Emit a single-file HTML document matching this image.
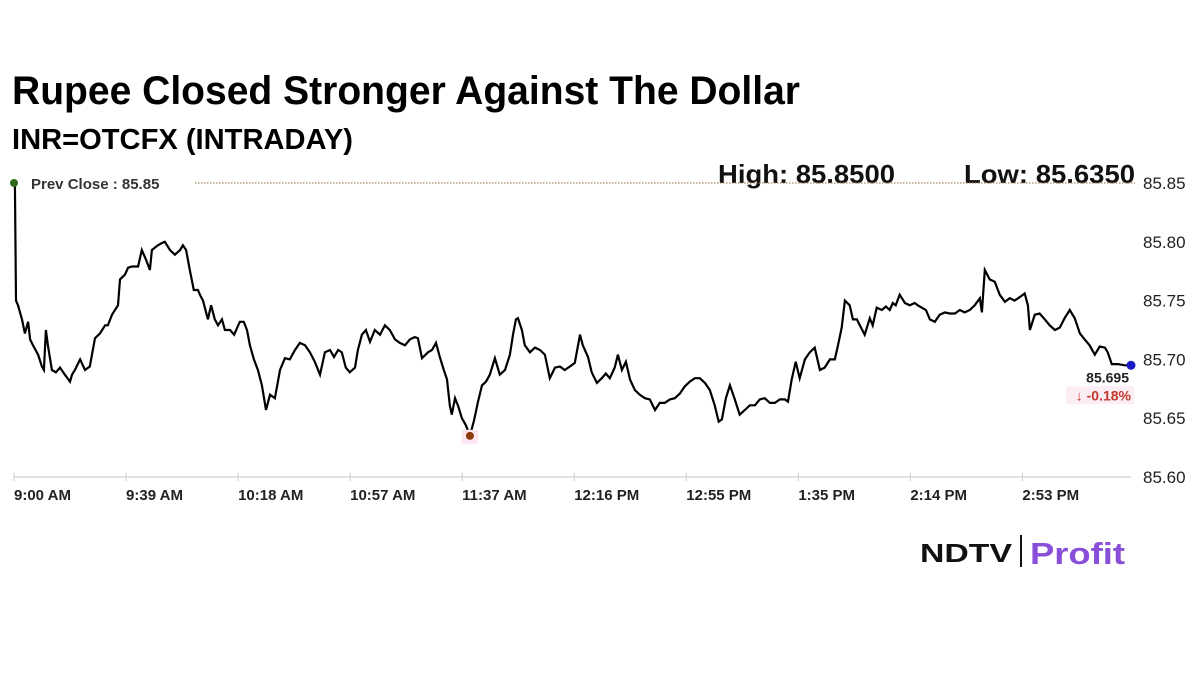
<!DOCTYPE html>
<html><head><meta charset="utf-8"><style>
html,body{margin:0;padding:0;background:#fff;}
svg{display:block;font-family:"Liberation Sans",sans-serif;}
</style></head><body>
<svg id="chart" width="1200" height="675" viewBox="0 0 1200 675">
<text x="12" y="104" font-size="40" font-weight="bold" fill="#000" textLength="788" lengthAdjust="spacingAndGlyphs">Rupee Closed Stronger Against The Dollar</text>
<text x="12" y="149" font-size="29" font-weight="bold" fill="#000" textLength="341" lengthAdjust="spacingAndGlyphs">INR=OTCFX (INTRADAY)</text>
<text x="718" y="183" font-size="26" font-weight="bold" fill="#111" textLength="177" lengthAdjust="spacingAndGlyphs">High: 85.8500</text>
<text x="964" y="183" font-size="26" font-weight="bold" fill="#111" textLength="171" lengthAdjust="spacingAndGlyphs">Low: 85.6350</text>
<g id="plot"></g>
<g>
<text x="920" y="562" font-size="26" font-weight="bold" fill="#111" textLength="92" lengthAdjust="spacingAndGlyphs">NDTV</text>
<rect x="1020" y="535" width="2" height="32" fill="#111"></rect>
<text x="1030" y="564" font-size="31" font-weight="bold" fill="#8a4fd8" textLength="95" lengthAdjust="spacingAndGlyphs">Profit</text>
</g>
</svg>
<script>
const minutes=[0.3,0.7,1.4,2.8,3.8,4.9,5.6,6.6,8.4,9.7,10.4,11.1,11.8,13.2,14.6,16.0,17.7,19.5,20.2,21.2,23.0,24.7,26.4,28.2,29.9,31.7,32.7,34.1,36.2,36.9,38.6,39.7,41.1,43.2,44.5,45.9,47.3,48.0,50.1,51.5,52.5,54.3,56.0,57.8,58.8,59.9,61.2,62.6,64.0,64.7,65.8,67.5,68.6,69.9,71.0,72.4,73.4,75.2,76.6,78.6,80.0,81.1,82.1,83.5,84.9,86.3,87.7,89.1,90.8,92.6,94.3,96.0,97.8,99.5,101.3,103.0,104.7,106.5,108.2,110.0,111.4,112.8,114.1,115.5,116.9,118.7,119.7,121.1,122.5,123.9,125.6,127.4,129.1,130.8,132.6,134.3,136.1,137.8,139.5,140.6,142.0,144.1,145.5,146.9,148.2,149.6,150.7,151.7,152.4,153.5,154.5,155.9,157.3,158.7,160.1,161.5,162.9,164.3,165.6,167.4,169.1,170.9,172.6,173.7,174.7,175.4,176.8,177.8,179.6,181.3,183.1,184.8,186.5,188.3,190.0,191.7,193.5,195.2,197.0,198.0,199.8,201.1,202.9,204.6,206.0,207.4,209.1,210.2,211.6,213.0,214.4,216.1,217.8,219.6,221.3,223.1,224.8,226.5,228.3,230.0,231.8,233.5,235.2,237.0,238.7,240.5,242.2,243.9,245.3,246.4,247.8,249.2,250.9,252.6,254.4,256.1,257.9,259.6,261.3,263.1,264.8,266.6,268.3,269.4,270.7,272.1,273.5,275.3,277.0,278.7,280.5,282.2,284.0,285.7,286.8,288.1,289.2,290.9,292.0,293.4,294.4,296.1,297.9,298.9,300.3,302.1,303.5,304.8,305.9,306.9,308.3,310.1,311.8,313.5,314.6,316.0,317.4,318.8,320.5,322.2,324.0,325.7,327.5,329.2,330.9,332.7,334.4,336.2,336.9,337.9,339.6,341.4,343.1,344.9,346.6,348.3,350.1,351.8,352.9,353.6,355.3,357.0,358.8,360.5,362.3,364.0,365.7,367.5,369.2,371.0,372.7,374.4,376.2,377.9,379.7,380.7,382.1,384.2,386.6,388.8];
const values=[85.850,85.750,85.746,85.734,85.722,85.732,85.717,85.712,85.704,85.694,85.691,85.725,85.712,85.691,85.689,85.693,85.687,85.681,85.687,85.691,85.700,85.691,85.694,85.718,85.722,85.729,85.729,85.738,85.746,85.768,85.772,85.778,85.779,85.779,85.793,85.785,85.776,85.793,85.797,85.799,85.800,85.793,85.789,85.793,85.797,85.793,85.776,85.759,85.759,85.755,85.750,85.734,85.746,85.734,85.729,85.734,85.725,85.725,85.721,85.732,85.732,85.725,85.712,85.700,85.691,85.678,85.657,85.670,85.667,85.691,85.701,85.700,85.708,85.714,85.712,85.706,85.698,85.687,85.706,85.708,85.702,85.708,85.706,85.693,85.689,85.693,85.708,85.721,85.725,85.715,85.725,85.721,85.729,85.725,85.717,85.714,85.712,85.717,85.719,85.718,85.701,85.706,85.708,85.714,85.702,85.691,85.683,85.661,85.653,85.667,85.661,85.650,85.644,85.635,85.648,85.664,85.678,85.681,85.687,85.701,85.687,85.691,85.704,85.721,85.734,85.735,85.725,85.712,85.706,85.710,85.708,85.704,85.684,85.693,85.694,85.691,85.694,85.697,85.721,85.712,85.702,85.689,85.680,85.684,85.688,85.684,85.693,85.704,85.691,85.698,85.683,85.674,85.670,85.667,85.666,85.657,85.663,85.663,85.666,85.667,85.671,85.677,85.681,85.684,85.684,85.680,85.674,85.661,85.647,85.649,85.667,85.678,85.666,85.653,85.657,85.661,85.661,85.666,85.667,85.663,85.663,85.666,85.666,85.664,85.683,85.698,85.684,85.700,85.706,85.710,85.691,85.693,85.700,85.700,85.712,85.727,85.750,85.746,85.734,85.734,85.729,85.721,85.735,85.729,85.744,85.742,85.745,85.742,85.748,85.746,85.755,85.748,85.746,85.748,85.746,85.744,85.742,85.734,85.732,85.738,85.740,85.739,85.739,85.742,85.740,85.742,85.746,85.752,85.740,85.776,85.768,85.766,85.755,85.749,85.752,85.750,85.753,85.756,85.746,85.725,85.738,85.739,85.734,85.729,85.725,85.727,85.735,85.742,85.735,85.722,85.717,85.712,85.704,85.711,85.710,85.706,85.696,85.696,85.695,85.695];
const yTicks=[85.85,85.80,85.75,85.70,85.65,85.60];
const xTickMinutes=[0,39,78,117,156,195,234,273,312,351];
const xTickLabels=["9:00 AM","9:39 AM","10:18 AM","10:57 AM","11:37 AM","12:16 PM","12:55 PM","1:35 PM","2:14 PM","2:53 PM"];
const prevClose=85.85;
const lastValue=85.695, changePct="-0.18%", lowValue=85.635, lowMinute=158.7;

const NS="http://www.w3.org/2000/svg";
const g=document.getElementById('plot');
const X0=14,X1=1131,MMAX=388.8,Y0=183,Y1=477,VMAX=85.85,VMIN=85.60;
function xs(m){return X0+(m/MMAX)*(X1-X0);}
function ys(v){return Y0+(VMAX-v)/(VMAX-VMIN)*(Y1-Y0);}
function mk(t,a){const e=document.createElementNS(NS,t);for(const k in a)e.setAttribute(k,a[k]);g.appendChild(e);return e;}

let ax=mk('line',{x1:X0,y1:Y1,x2:X1,y2:Y1,stroke:'#d8d8d8','stroke-width':1.5});


yTicks.forEach(v=>{
  const t=mk('text',{x:1143,y:ys(v)+6,'font-size':17,fill:'#222'});
  t.textContent=v.toFixed(2);
  
  
});
xTickMinutes.forEach((m,i)=>{
  const tk=mk('line',{x1:xs(m),y1:Y1-4,x2:xs(m),y2:Y1+4,stroke:'#ccc','stroke-width':1});
  
  
  const t=mk('text',{x:xs(m),y:500,'font-size':15,'font-weight':'bold',fill:'#222'});
  t.textContent=xTickLabels[i];
  
  
});
const pc=mk('line',{x1:195,y1:ys(prevClose),x2:X1+4,y2:ys(prevClose),stroke:'#a08a6a','stroke-width':1.2,'stroke-dasharray':'1.5,1.5'});


const pct=mk('text',{x:31,y:ys(prevClose)+6,'font-size':15,'font-weight':'bold',fill:'#333'});
pct.textContent='Prev Close : 85.85';


let d='';
minutes.forEach((m,i)=>{d+=(i?'L':'M')+xs(m).toFixed(1)+','+ys(values[i]).toFixed(1);});
const ln=mk('path',{d:d,fill:'none',stroke:'#000','stroke-width':2.2,'stroke-linejoin':'miter'});


const sd=mk('circle',{cx:xs(0),cy:ys(prevClose),r:4,fill:'#2d6a1a'});


const lr=mk('rect',{x:xs(lowMinute)-8,y:ys(lowValue)-6,width:16,height:14,fill:'#fde6f4'});


const ld=mk('circle',{cx:xs(lowMinute),cy:ys(lowValue),r:4,fill:'#8a3b0a'});


const ed=mk('circle',{cx:X1,cy:ys(lastValue),r:4.5,fill:'#1a1ac8'});


const lv=mk('text',{x:1129,y:ys(lastValue)+17,'font-size':14,'font-weight':'bold',fill:'#222','text-anchor':'end'});
lv.textContent=lastValue.toFixed(3);


const cr=mk('rect',{x:1066,y:ys(lastValue)+21,width:68,height:18,fill:'#fdeef6'});


const ch=mk('text',{x:1131,y:ys(lastValue)+35,'font-size':14,'font-weight':'bold',fill:'#c0392b','text-anchor':'end'});
ch.textContent='\u2193 '+changePct;


</script>
</body></html>
